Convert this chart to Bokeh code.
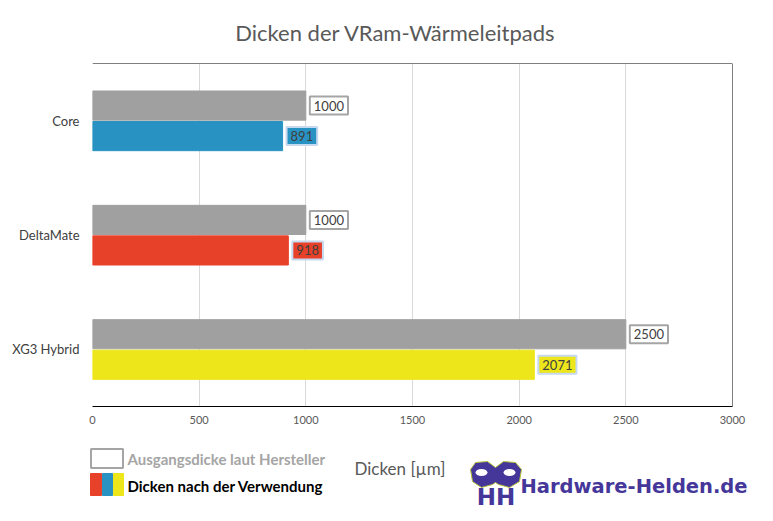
from bokeh.plotting import figure
from bokeh.models import ColumnDataSource, Range1d, FixedTicker, Span
from bokeh.core.properties import value
from bokeh.embed import file_html
from bokeh.resources import INLINE

# data
products = ["Core", "DeltaMate", "XG3 Hybrid"]
original = [1000, 1000, 2500]      # Ausgangsdicke laut Hersteller
used = [891, 918, 2071]            # Dicken nach der Verwendung
used_colors = ["#2893c3", "#e8412a", "#ede61b"]
x_ticks = [0, 500, 1000, 1500, 2000, 2500, 3000]

title = "Dicken der VRam-Wärmeleitpads"
axis_title = "Dicken [µm]"
legend_labels = ["Ausgangsdicke laut Hersteller", "Dicken nach der Verwendung"]
logo_text = "Hardware-Helden.de"

GRAY = "#a0a0a0"
FONT = "Lato"
PURPLE = "#45379a"

# category slots, first product on top
n = len(products)
pos = [n - i - 0.5 for i in range(n)]

src = ColumnDataSource(dict(
    y_orig=[y + 0.132 for y in pos],
    y_used=[y - 0.135 for y in pos],
    orig=original,
    used=used,
    color=used_colors,
    orig_txt=[str(v) for v in original],
    used_txt=[str(v) for v in used],
))

p = figure(width=757, height=513,
           y_range=Range1d(0, n), x_range=Range1d(0, 3000),
           output_backend="svg", toolbar_location=None,
           min_border_left=92, min_border_right=25,
           min_border_top=63, min_border_bottom=107)
p.outline_line_color = None

# pixel ranges for the decoration around the frame (0,0 = top left of frame)
p.extra_x_ranges = {"px": Range1d(0, 640)}
p.extra_y_ranges = {"py": Range1d(343, 0)}

p.xaxis.ticker = FixedTicker(ticks=x_ticks)
p.xaxis.major_tick_line_color = None
p.xaxis.minor_tick_line_color = None
p.xaxis.major_tick_out = 0
p.xaxis.axis_line_color = "black"
p.xaxis.major_label_text_font = FONT
p.xaxis.major_label_text_font_size = "11px"
p.xaxis.major_label_text_color = "#595959"
p.xaxis.major_label_standoff = 9

p.yaxis.ticker = FixedTicker(ticks=pos)
p.yaxis.major_label_overrides = {y: name for y, name in zip(pos, products)}
p.yaxis.axis_line_color = None
p.yaxis.major_tick_line_color = None
p.yaxis.minor_tick_line_color = None
p.yaxis.major_tick_out = 0
p.yaxis.major_label_text_font = FONT
p.yaxis.major_label_text_font_size = "13px"
p.yaxis.major_label_text_color = "#404040"
p.yaxis.major_label_standoff = 13

p.xgrid.ticker = FixedTicker(ticks=x_ticks)
p.xgrid.grid_line_color = "#d9d9d9"
p.ygrid.visible = False

# top and right frame lines
p.add_layout(Span(location=n, dimension="width", line_color="black", line_width=1))
p.add_layout(Span(location=3000, dimension="height", line_color="black", line_width=1))

# bars
p.hbar(y="y_orig", left=0, right="orig", height=0.255, color=GRAY, source=src)
p.hbar(y="y_used", left=0, right="used", height=0.255, color="color", source=src)

# value labels
p.text(x="orig", y="y_orig", text="orig_txt",
       x_offset=4, text_align="left", text_baseline="middle",
       text_font=value(FONT), text_font_size="13px", text_color="#404040",
       background_fill_color="white", border_line_color="#a5a5a5",
       border_line_width=2, padding=4, source=src)
p.text(x="used", y="y_used", text="used_txt",
       x_offset=4, text_align="left", text_baseline="middle",
       text_font=value(FONT), text_font_size="13px", text_color="#404040",
       background_fill_color="color", border_line_color="#c6d9f0",
       border_line_width=2, padding=4, source=src)

deco = dict(x_range_name="px", y_range_name="py", level="overlay")

# title
p.text(x=303, y=-31, text=[title], text_align="center", text_baseline="middle",
       text_font=value(FONT), text_font_size="22px", text_color="#595959", **deco)

# legend
p.rect(x=14.5, y=395, width=32, height=19, fill_color=None,
       line_color="#a5a5a5", line_width=2, **deco)
p.rect(x=[3.5, 15, 26], y=421, width=[11, 10, 10], height=22,
       color=[used_colors[1], used_colors[0], used_colors[2]], **deco)
p.text(x=35, y=[395, 422], text=legend_labels, text_baseline="middle",
       text_font=value(FONT), text_font_style="bold", text_font_size="15px",
       text_color=["#a5a5a5", "black"], **deco)

# axis title
p.text(x=262, y=405, text=[axis_title], text_baseline="middle",
       text_font=value(FONT), text_font_size="17px", text_color="#595959", **deco)

# logo
p.patch(x=[378, 383, 395, 403, 411, 423, 429, 427, 417, 406, 403, 400, 389, 380],
        y=[406, 399, 398, 404, 398, 399, 406, 418, 424, 421, 419, 421, 424, 418],
        fill_color=PURPLE, line_color="#b8c43a", line_width=1, **deco)
p.ellipse(x=[389, 417], y=[409, 409], width=12, height=7,
          fill_color="white", line_color=None, **deco)
p.text(x=403.5, y=433, text=["HH"], text_align="center", text_baseline="middle",
       text_font=value("DejaVu Sans"), text_font_style="bold", text_font_size="23px",
       text_color=PURPLE, **deco)
p.text(x=428, y=423, text=[logo_text], text_baseline="middle",
       text_font=value("DejaVu Sans"), text_font_style="bold", text_font_size="19.5px",
       text_color=PURPLE, **deco)

open("out.html", "w").write(file_html(p, INLINE))
